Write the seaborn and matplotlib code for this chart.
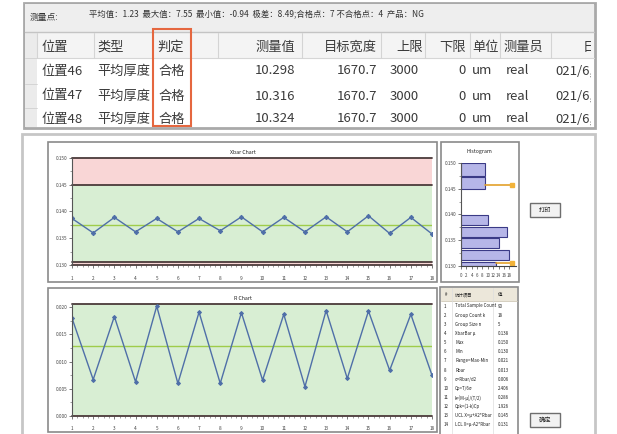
import matplotlib
matplotlib.use('Agg')
import matplotlib.pyplot as plt
import matplotlib.patches as mpatches
from matplotlib.ticker import MultipleLocator, FormatStrFormatter
import seaborn as sns

W, H = 617, 434

# ---- top table data ----
summary_label = '测量点:'
summary_text = '平均值：1.23  最大值：7.55  最小值：-0.94  极差：8.49;合格点：7 不合格点：4  产品：NG'
headers = ['位置', '类型', '判定', '测量值', '目标宽度', '上限', '下限', '单位', '测量员', '日期']
positions = ['位置46', '位置47', '位置48']
types = ['平均厚度', '平均厚度', '平均厚度']
verdicts = ['合格', '合格', '合格']
measured = ['10.298', '10.316', '10.324']
target_width = ['1670.7', '1670.7', '1670.7']
upper = ['3000', '3000', '3000']
lower = ['0', '0', '0']
units = ['um', 'um', 'um']
operators = ['real', 'real', 'real']
dates = ['021/6,', '021/6,', '021/6,']

# ---- control chart data ----
subgroup = list(range(1, 19))
xbar = [0.1387, 0.1360, 0.1389, 0.1362, 0.1387, 0.1362, 0.1387, 0.1364, 0.1390,
        0.1362, 0.1389, 0.1362, 0.1390, 0.1362, 0.1392, 0.1359, 0.1389, 0.1358]
rng = [0.0180, 0.0067, 0.0183, 0.0063, 0.0202, 0.0060, 0.0191, 0.0060, 0.0190,
       0.0066, 0.0187, 0.0054, 0.0194, 0.0069, 0.0193, 0.0084, 0.0187, 0.0075]
xbar_ticks = [0.130, 0.135, 0.140, 0.145, 0.150]
xbar_cl, xbar_ucl, xbar_lcl = 0.1375, 0.145, 0.1305
r_ticks = [0.000, 0.005, 0.010, 0.015, 0.020]
r_cl, r_ucl = 0.0128, 0.0206

# ---- histogram data ----
hist_lo = [0.1475, 0.1450, 0.1380, 0.1356, 0.1335, 0.1312, 0.1300]
hist_hi = [0.1500, 0.1472, 0.1399, 0.1376, 0.1354, 0.1331, 0.1308]
hist_count = [9, 9, 10, 17, 14, 18, 13]
hist_marks = [0.1457, 0.1305]
hist_mark_start = [9, 13]
hist_mark_end = 19

# ---- statistics table ----
stat_names = ['Total Sample Count', 'Group Count k', 'Group Size n', 'XbarBar μ', 'Max', 'Min',
              'Range=Max-Min', 'Rbar', 'σ=Rbar/d2', 'Cp=T/6σ', 'k=|M-μ|/(T/2)',
              'Cpk=(1-k)Cp', 'UCL X=μ+A2*Rbar', 'LCL X=μ-A2*Rbar']
stat_values = ['90', '18', '5', '0.138', '0.150', '0.130', '0.021', '0.013', '0.006',
               '2.406', '0.286', '1.926', '0.145', '0.131']

sns.set_style('white')
plt.rcParams['font.family'] = ['Noto Sans CJK SC', 'DejaVu Sans']

fig = plt.figure(figsize=(W / 100, H / 100), dpi=100)
ov = fig.add_axes([0, 0, 1, 1])
ov.set_xlim(0, W)
ov.set_ylim(H, 0)
ov.axis('off')
ov.set_zorder(0)


def box(x0, y0, x1, y1, **kw):
    p = mpatches.Rectangle((x0, y0), x1 - x0, y1 - y0, **kw)
    ov.add_patch(p)
    return p


def px_axes(l, t, r, b):
    a = fig.add_axes([l / W, 1 - b / H, (r - l) / W, (b - t) / H])
    a.set_zorder(2)
    return a


# ================= top table =================
box(24, 3, 595, 128, facecolor='white', edgecolor='#a9a9a9', lw=2)
box(25, 4, 594, 32, facecolor='#eeeeee', edgecolor='none')
ov.plot([25, 594], [32, 32], color='#c4c4c4', lw=1)
box(25, 33, 594, 58, facecolor='#f4f4f4', edgecolor='none')
ov.plot([37, 594], [58, 58], color='#d6d6d6', lw=0.8)
box(25, 33, 37, 127, facecolor='#ebebeb', edgecolor='none')
for yy in [58, 84, 108]:
    ov.plot([25, 37], [yy, yy], color='#d0d0d0', lw=0.6)
for xx in [37, 94, 218, 302, 381, 425, 470, 500, 551]:
    ov.plot([xx, xx], [33, 58], color='#d4d4d4', lw=0.8)

ov.text(30, 17, summary_label, fontsize=6.3, va='center', ha='left', color='#333333')
ov.text(89, 14, summary_text, fontsize=6.0, va='center', ha='left', color='#333333')

clip = mpatches.Rectangle((37, 33), 554, 95, transform=ov.transData)
txt_kw = dict(fontsize=9.5, va='center', color='#3a3a3a')
hx = [(41, 'left'), (97, 'left'), (157, 'left'), (295, 'right'), (377, 'right'),
      (423, 'right'), (466, 'right'), (472, 'left'), (503, 'left'), (583, 'left')]
for (xx, al), h in zip(hx, headers):
    t = ov.text(xx, 47, h, ha=al, clip_on=True, **txt_kw)
    t.set_clip_path(clip)

row_y = [71, 96, 119]
for i, yy in enumerate(row_y):
    ov.text(41, yy, positions[i], ha='left', **txt_kw)
    ov.text(97, yy, types[i], ha='left', **txt_kw)
    ov.text(158, yy, verdicts[i], ha='left', **txt_kw)
    ov.text(295, yy, measured[i], ha='right', **txt_kw)
    ov.text(377, yy, target_width[i], ha='right', **txt_kw)
    ov.text(390, yy, upper[i], ha='left', **txt_kw)
    ov.text(466, yy, lower[i], ha='right', **txt_kw)
    ov.text(472, yy, units[i], ha='left', **txt_kw)
    ov.text(506, yy, operators[i], ha='left', **txt_kw)
    t = ov.text(555, yy, dates[i], ha='left', clip_on=True, **txt_kw)
    t.set_clip_path(clip)

box(153, 29, 191, 126, facecolor='none', edgecolor='#e5673f', lw=1.5, zorder=5)

# ================= bottom panel frames =================
box(22, 134, 595, 440, facecolor='white', edgecolor='#c6c6c6', lw=2)
box(48, 142, 437, 282, facecolor='white', edgecolor='#8a8a8a', lw=1.2)
box(48, 288, 437, 432, facecolor='white', edgecolor='#8a8a8a', lw=1.2)
box(441, 142, 519, 282, facecolor='white', edgecolor='#8a8a8a', lw=1.2)
box(440, 287, 518, 440, facecolor='white', edgecolor='#8a8a8a', lw=1.2)

ov.text(243, 153, 'Xbar Chart', fontsize=3.8, ha='center', va='center', color='#222222')
ov.text(243, 299, 'R Chart', fontsize=3.8, ha='center', va='center', color='#222222')
ov.text(479, 152, 'Histogram', fontsize=3.8, ha='center', va='center', color='#222222')

# buttons
for (y0, lab) in [(203, '打印'), (413, '确定')]:
    box(530, y0, 560, y0 + 14, facecolor='#f2f2f2', edgecolor='#6e6e6e', lw=1)
    ov.text(545, y0 + 7, lab, fontsize=4.5, ha='center', va='center', color='#222222')

line_col = '#4f6fa8'
lim_col = '#4b3a3a'
tick_kw = dict(labelsize=3.4, length=2, width=0.5, colors='#444444', pad=1.5)


def style_chart(a):
    for s in ['top', 'right']:
        a.spines[s].set_visible(False)
    a.spines['left'].set_color('#555555')
    a.spines['left'].set_linewidth(0.8)
    a.spines['bottom'].set_visible(False)
    a.tick_params(axis='both', which='major', left=True, bottom=True, direction='out', **tick_kw)
    a.tick_params(axis='both', which='minor', left=True, bottom=True, length=1.2, width=0.4,
                  colors='#555555')
    a.set_xlabel('')
    a.set_ylabel('')


# ================= Xbar chart =================
ax1 = px_axes(72, 158, 432, 265)
ax1.axhspan(xbar_ucl, max(xbar_ticks), color='#f9d6d6', lw=0)
ax1.axhspan(xbar_lcl, xbar_ucl, color='#d8eed3', lw=0)
ax1.axhspan(min(xbar_ticks), xbar_lcl, color='#f9d6d6', lw=0)
for v in [max(xbar_ticks), xbar_ucl, xbar_lcl, min(xbar_ticks)]:
    ax1.axhline(v, color=lim_col, lw=1.3, clip_on=False)
ax1.axhline(xbar_cl, color='#9fcc4a', lw=1)
sns.lineplot(x=subgroup, y=xbar, ax=ax1, color=line_col, lw=1, marker='D', markersize=2.2,
             markeredgecolor=line_col)
ax1.set_xlim(1, 18)
ax1.set_ylim(min(xbar_ticks), max(xbar_ticks))
ax1.set_xticks(subgroup)
ax1.set_yticks(xbar_ticks)
ax1.yaxis.set_major_formatter(FormatStrFormatter('%.3f'))
ax1.yaxis.set_minor_locator(MultipleLocator(0.0025))
ax1.xaxis.set_minor_locator(MultipleLocator(0.25))
style_chart(ax1)
ax1.tick_params(axis='x', pad=6)

# ================= R chart =================
ax2 = px_axes(72, 304, 432, 416)
ax2.axhspan(0, r_ucl, color='#d8eed3', lw=0)
for v in [0, r_ucl]:
    ax2.axhline(v, color=lim_col, lw=1.3, clip_on=False)
ax2.axhline(r_cl, color='#9fcc4a', lw=1)
sns.lineplot(x=subgroup, y=rng, ax=ax2, color=line_col, lw=1, marker='D', markersize=2.0,
             markeredgecolor=line_col)
ax2.set_xlim(1, 18)
ax2.set_ylim(0, r_ucl)
ax2.set_xticks(subgroup)
ax2.set_yticks(r_ticks)
ax2.yaxis.set_major_formatter(FormatStrFormatter('%.3f'))
ax2.yaxis.set_minor_locator(MultipleLocator(0.0025))
ax2.xaxis.set_minor_locator(MultipleLocator(0.25))
style_chart(ax2)
ax2.tick_params(axis='x', pad=5)

# ================= Histogram =================
ax3 = px_axes(461, 163, 516, 266)
centers = [(lo + hi) / 2 for lo, hi in zip(hist_lo, hist_hi)]
heights = [hi - lo for lo, hi in zip(hist_lo, hist_hi)]
ax3.barh(centers, hist_count, height=heights, color='#b6b6e8', edgecolor='#3a3a86', lw=0.8)
for v, x0 in zip(hist_marks, hist_mark_start):
    ax3.plot([x0, hist_mark_end], [v, v], color='#e3a12a', lw=1.2, clip_on=False)
    ax3.plot([hist_mark_end], [v], marker='s', ms=3.5, color='#f2b33a', clip_on=False)
ax3.set_xlim(0, 20.5)
ax3.set_ylim(min(xbar_ticks), max(xbar_ticks))
ax3.set_xticks(list(range(0, 19, 2)))
ax3.set_yticks(xbar_ticks)
ax3.yaxis.set_major_formatter(FormatStrFormatter('%.3f'))
ax3.yaxis.set_minor_locator(MultipleLocator(0.0025))
style_chart(ax3)
ax3.spines['bottom'].set_visible(True)
ax3.spines['bottom'].set_color('#444444')
ax3.tick_params(axis='x', pad=3, labelsize=3.2)

# ================= statistics table =================
box(441, 288, 517, 301, facecolor='#ece7da', edgecolor='none')
ov.plot([441, 517], [301, 301], color='#cfc8b6', lw=0.6)
for xx in [452, 493]:
    ov.plot([xx, xx], [288, 434], color='#dddddd', lw=0.5)
st_kw = dict(fontsize=3.2, va='center', color='#222222')
ov.text(445, 295, '#', ha='left', **st_kw)
ov.text(455, 295, '统计项目', ha='left', **st_kw)
ov.text(498, 295, '值', ha='left', **st_kw)
for i, (nm, vl) in enumerate(zip(stat_names, stat_values)):
    yy = 306 + i * 9.15
    ov.text(444, yy, str(i + 1), ha='left', **st_kw)
    ov.text(455, yy, nm, ha='left', **st_kw)
    ov.text(498, yy, vl, ha='left', **st_kw)

fig.savefig('out.png', dpi=100)
